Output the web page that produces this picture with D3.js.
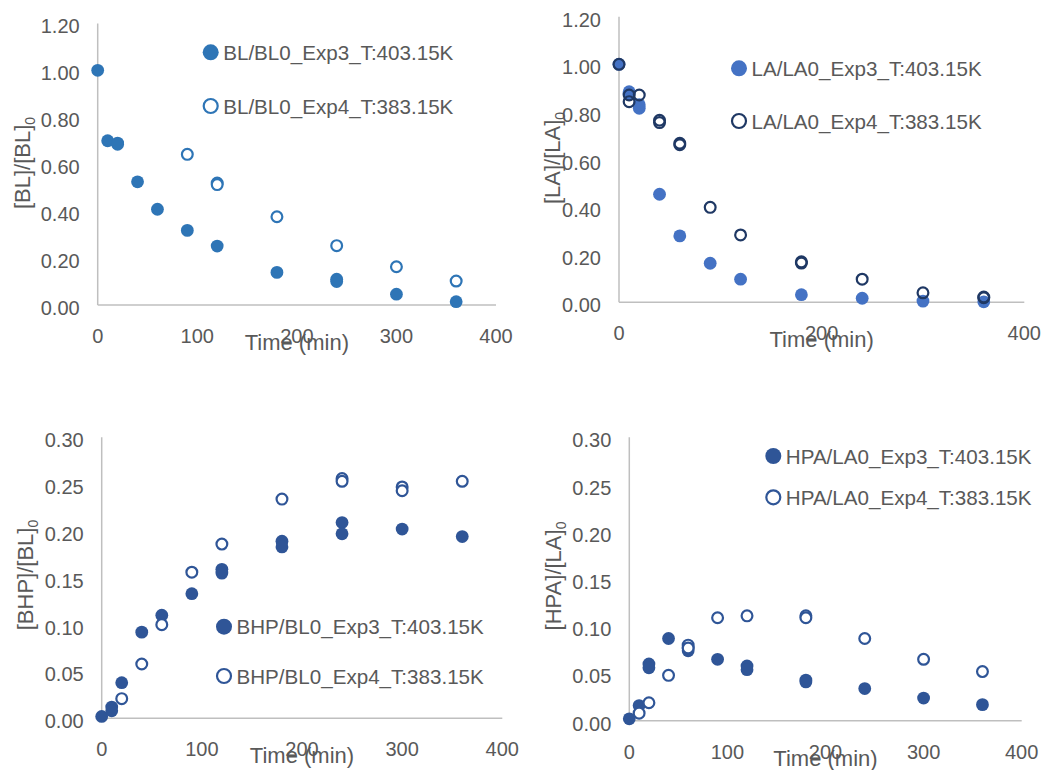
<!DOCTYPE html>
<html>
<head>
<meta charset="utf-8">
<script src="https://cdn.jsdelivr.net/npm/d3@7"></script>
<style>
  html, body { margin: 0; padding: 0; background: #fff; }
  svg { display: block; font-family: "Liberation Sans", Arial, sans-serif; }
</style>
</head>
<body>
<svg id="chart" width="1054" height="770"></svg>
<script>
// ---------- DATA ----------
// Panel 1: [BL]/[BL]0
const blExp3Time = [0, 10, 20, 20, 40, 60, 90, 120, 180, 240, 240, 300, 360];
const blExp3Val  = [1.00, 0.70, 0.69, 0.685, 0.525, 0.408, 0.318, 0.251, 0.139, 0.110, 0.100, 0.046, 0.014];
const blExp4Time = [90, 120, 120, 180, 240, 300, 360];
const blExp4Val  = [0.642, 0.520, 0.513, 0.376, 0.253, 0.163, 0.102];

// Panel 2: [LA]/[LA]0
const laExp3Time = [0, 10, 10, 20, 20, 40, 60, 90, 120, 180, 240, 300, 360];
const laExp3Val  = [1.00, 0.885, 0.875, 0.815, 0.830, 0.454, 0.279, 0.164, 0.097, 0.032, 0.017, 0.005, 0.002];
const laExp4Time = [0, 10, 10, 20, 40, 40, 60, 60, 90, 120, 180, 180, 240, 300, 360, 360];
const laExp4Val  = [1.00, 0.871, 0.843, 0.871, 0.765, 0.755, 0.668, 0.662, 0.399, 0.283, 0.170, 0.165, 0.097, 0.040, 0.019, 0.022];

// Panel 3: [BHP]/[BL]0
const bhpExp3Time = [0, 10, 10, 20, 40, 60, 90, 120, 120, 180, 180, 240, 240, 300, 360];
const bhpExp3Val  = [0.002, 0.012, 0.008, 0.038, 0.092, 0.110, 0.133, 0.159, 0.155, 0.189, 0.183, 0.209, 0.197, 0.202, 0.194];
const bhpExp4Time = [20, 40, 60, 90, 120, 180, 240, 240, 300, 300, 360];
const bhpExp4Val  = [0.021, 0.058, 0.100, 0.156, 0.186, 0.234, 0.256, 0.253, 0.247, 0.243, 0.253];

// Panel 4: [HPA]/[LA]0
const hpaExp3Time = [0, 10, 20, 20, 40, 60, 60, 90, 120, 120, 180, 180, 240, 300, 360];
const hpaExp3Val  = [0.002, 0.016, 0.060, 0.056, 0.087, 0.077, 0.074, 0.065, 0.058, 0.054, 0.043, 0.041, 0.034, 0.024, 0.017];
const hpaExp4Time = [10, 20, 40, 60, 60, 90, 120, 180, 180, 240, 300, 360];
const hpaExp4Val  = [0.008, 0.019, 0.048, 0.080, 0.077, 0.109, 0.111, 0.111, 0.109, 0.087, 0.065, 0.052];

// Tick labels
const xTicksFull = [0, 100, 200, 300, 400];
const xTicksSparse = [0, 200, 400];
const yTicksConc = [0, 0.2, 0.4, 0.6, 0.8, 1.0, 1.2];
const yTicksProd = [0, 0.05, 0.10, 0.15, 0.20, 0.25, 0.30];

// Legend labels
const blLegend  = ["BL/BL0_Exp3_T:403.15K", "BL/BL0_Exp4_T:383.15K"];
const laLegend  = ["LA/LA0_Exp3_T:403.15K", "LA/LA0_Exp4_T:383.15K"];
const bhpLegend = ["BHP/BL0_Exp3_T:403.15K", "BHP/BL0_Exp4_T:383.15K"];
const hpaLegend = ["HPA/LA0_Exp3_T:403.15K", "HPA/LA0_Exp4_T:383.15K"];

const xTitle = "Time (min)";

// ---------- DRAW ----------
const svg = d3.select("#chart");
const TEXT = "#595959";
const AXIS = "#BFBFBF";
const zip = (xs, ys) => xs.map((x, i) => ({x, y: ys[i]}));

function panel(cfg) {
  const g = svg.append("g");
  const x = d3.scaleLinear().domain([0, 400]).range([cfg.left, cfg.right]);
  const y = d3.scaleLinear().domain(cfg.yDomain).range([cfg.bottom, cfg.top]);

  // axis lines
  g.append("line").attr("x1", x(0)).attr("x2", x(0)).attr("y1", y(cfg.yDomain[1])).attr("y2", y(0))
    .attr("stroke", AXIS).attr("stroke-width", 1.5);
  g.append("line").attr("x1", x(0)).attr("x2", x(400)).attr("y1", y(0)).attr("y2", y(0))
    .attr("stroke", AXIS).attr("stroke-width", 1.5);

  // y tick labels
  g.selectAll(".yt").data(cfg.yTicks).join("text")
    .attr("x", x(0) - 18).attr("y", d => y(d) + 10)
    .attr("text-anchor", "end").attr("font-size", 20).attr("fill", TEXT)
    .text(d => d3.format(".2f")(d));

  // x tick labels
  g.selectAll(".xt").data(cfg.xTicks).join("text")
    .attr("x", d => x(d)).attr("y", y(0) + 38)
    .attr("text-anchor", "middle").attr("font-size", 20).attr("fill", TEXT)
    .text(d => d);

  // x title
  g.append("text").attr("x", (x(0) + x(400)) / 2).attr("y", y(0) + 45)
    .attr("text-anchor", "middle").attr("font-size", 22).attr("fill", TEXT).text(xTitle);

  // y title
  const yt = g.append("text")
    .attr("transform", `translate(${cfg.yTitleX},${cfg.yTitleY}) rotate(-90)`)
    .attr("text-anchor", "middle").attr("font-size", 22).attr("fill", TEXT);
  yt.append("tspan").text(cfg.yTitle);
  yt.append("tspan").attr("font-size", 14).attr("dy", 5).text("0");

  // series
  const r = 6.4;
  g.selectAll(".s3").data(zip(cfg.t3, cfg.v3)).join("circle")
    .attr("cx", d => x(d.x)).attr("cy", d => y(d.y)).attr("r", r)
    .attr("fill", cfg.c3);
  g.selectAll(".s4").data(zip(cfg.t4, cfg.v4)).join("circle")
    .attr("cx", d => x(d.x)).attr("cy", d => y(d.y)).attr("r", r - 1)
    .attr("fill", cfg.fill4).attr("stroke", cfg.c4).attr("stroke-width", 2.2);

  // legend
  const lg = g.append("g");
  lg.append("circle").attr("cx", cfg.legX).attr("cy", cfg.legY[0]).attr("r", 8).attr("fill", cfg.c3);
  lg.append("circle").attr("cx", cfg.legX).attr("cy", cfg.legY[1]).attr("r", 7)
    .attr("fill", "#fff").attr("stroke", cfg.c4).attr("stroke-width", 2.2);
  cfg.legend.forEach((t, i) => {
    lg.append("text").attr("x", cfg.legX + 12.5).attr("y", cfg.legY[i] + 7.5)
      .attr("font-size", 20.6).attr("fill", TEXT).text(t);
  });
}

panel({
  left: 97.7, right: 496, top: 23.4, bottom: 305,
  yDomain: [0, 1.2], yTicks: yTicksConc, xTicks: xTicksFull,
  yTitle: "[BL]/[BL]", yTitleX: 30, yTitleY: 163,
  t3: blExp3Time, v3: blExp3Val, t4: blExp4Time, v4: blExp4Val,
  c3: "#2E75B6", c4: "#2E75B6", fill4: "#fff",
  legX: 210.7, legY: [52.3, 106], legend: blLegend
});
panel({
  left: 619, right: 1024.3, top: 16.7, bottom: 302.3,
  yDomain: [0, 1.2], yTicks: yTicksConc, xTicks: xTicksSparse,
  yTitle: "[LA]/[LA]", yTitleX: 560, yTitleY: 158,
  t3: laExp3Time, v3: laExp3Val, t4: laExp4Time, v4: laExp4Val,
  c3: "#4472C4", c4: "#1F3864", fill4: "none",
  legX: 739, legY: [68.3, 121], legend: laLegend
});
panel({
  left: 101.7, right: 502.3, top: 437.3, bottom: 718.3,
  yDomain: [0, 0.3], yTicks: yTicksProd, xTicks: xTicksFull,
  yTitle: "[BHP]/[BL]", yTitleX: 33, yTitleY: 575,
  t3: bhpExp3Time, v3: bhpExp3Val, t4: bhpExp4Time, v4: bhpExp4Val,
  c3: "#2F5597", c4: "#2F5597", fill4: "#fff",
  legX: 224, legY: [626.7, 676], legend: bhpLegend
});
panel({
  left: 629.3, right: 1021.7, top: 437.3, bottom: 720.7,
  yDomain: [0, 0.3], yTicks: yTicksProd, xTicks: xTicksFull,
  yTitle: "[HPA]/[LA]", yTitleX: 561, yTitleY: 576,
  t3: hpaExp3Time, v3: hpaExp3Val, t4: hpaExp4Time, v4: hpaExp4Val,
  c3: "#2F5597", c4: "#2F5597", fill4: "#fff",
  legX: 773.3, legY: [456, 497.3], legend: hpaLegend
});
</script>
</body>
</html>
